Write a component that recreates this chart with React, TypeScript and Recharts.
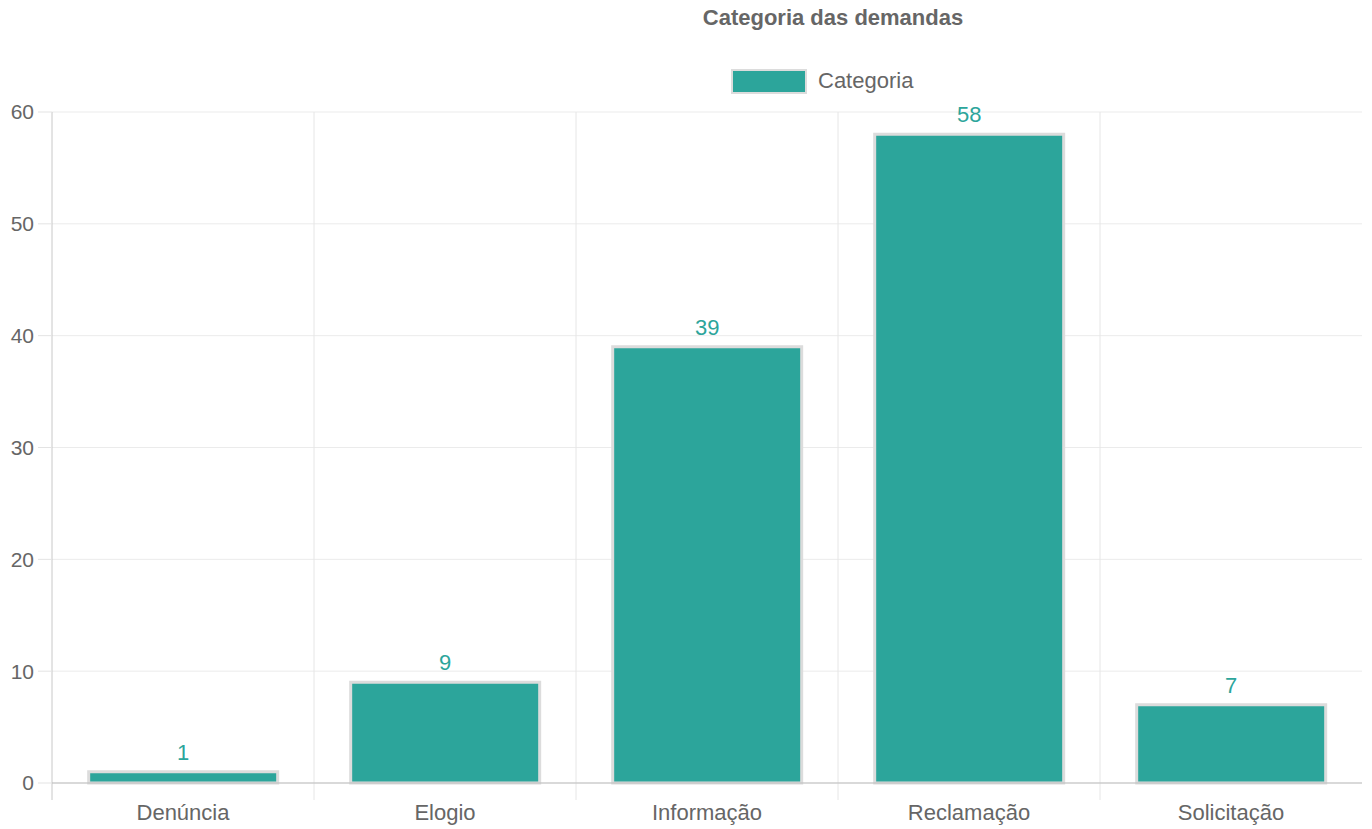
import React from "react";
import {
  Bar,
  BarChart,
  CartesianGrid,
  LabelList,
  XAxis,
  YAxis,
  usePlotArea
} from "recharts";

const categorias = ["Denúncia", "Elogio", "Informação", "Reclamação", "Solicitação"];
const quantidades = [1, 9, 39, 58, 7];
const yTicks = [0, 10, 20, 30, 40, 50, 60];
// fronteiras entre categorias, para as linhas verticais da grade
const fronteiras = [0, 1, 2, 3, 4];

const data = categorias.map((nome, i) => ({ nome, total: quantidades[i] }));

const FONT = '"Liberation Sans", Arial, sans-serif';
const TEAL = "#2ca59b";

// linhas verticais nas divisões entre categorias, com um traço abaixo do eixo
function LinhasVerticais() {
  const area = usePlotArea();
  if (!area) return null;
  const passo = area.width / categorias.length;
  const base = area.y + area.height;
  return (
    <g>
      {fronteiras.map((f) => {
        const x = area.x + f * passo;
        return (
          <line
            key={f}
            x1={x}
            x2={x}
            y1={area.y}
            y2={base + 17}
            stroke={f === 0 ? "#c8c8c8" : "#e6e6e6"}
          />
        );
      })}
    </g>
  );
}

export default function App() {
  return (
    <div style={{ position: "absolute", left: 0, top: 0, width: 1372, height: 829, fontFamily: FONT }}>
      <div
        style={{
          position: "absolute",
          top: 5,
          left: 633,
          width: 400,
          textAlign: "center",
          fontSize: 22,
          fontWeight: "bold",
          color: "#666"
        }}
      >
        Categoria das demandas
      </div>
      <div style={{ position: "absolute", top: 68, left: 731, display: "flex", alignItems: "center" }}>
        <span
          style={{
            display: "inline-block",
            width: 72,
            height: 21,
            background: TEAL,
            border: "2px solid #dcdcdc"
          }}
        />
        <span style={{ marginLeft: 11, fontSize: 22, color: "#666" }}>Categoria</span>
      </div>
      <BarChart
        width={1372}
        height={829}
        data={data}
        margin={{ top: 112, right: 10, bottom: 0, left: 0 }}
        barCategoryGap="14%"
      >
        <CartesianGrid stroke="#ebebeb" vertical={false} />
        <LinhasVerticais />
        <XAxis
          dataKey="nome"
          tickLine={false}
          tickSize={19}
          axisLine={{ stroke: "#bdbdbd" }}
          height={46}
          tick={{ fill: "#666", fontSize: 22, fontFamily: FONT }}
          interval={0}
        />
        <YAxis
          domain={[0, 60]}
          ticks={yTicks}
          width={52}
          tickSize={14}
          tickMargin={4}
          tickLine={{ stroke: "#e3e3e3" }}
          axisLine={false}
          tick={{ fill: "#666", fontSize: 21, fontFamily: FONT }}
        />
        <Bar dataKey="total" fill={TEAL} stroke="#dcdcdc" strokeWidth={3} isAnimationActive={false}>
          <LabelList dataKey="total" position="top" offset={12} fill={TEAL} fontSize={22} fontFamily={FONT} />
        </Bar>
      </BarChart>
    </div>
  );
}
